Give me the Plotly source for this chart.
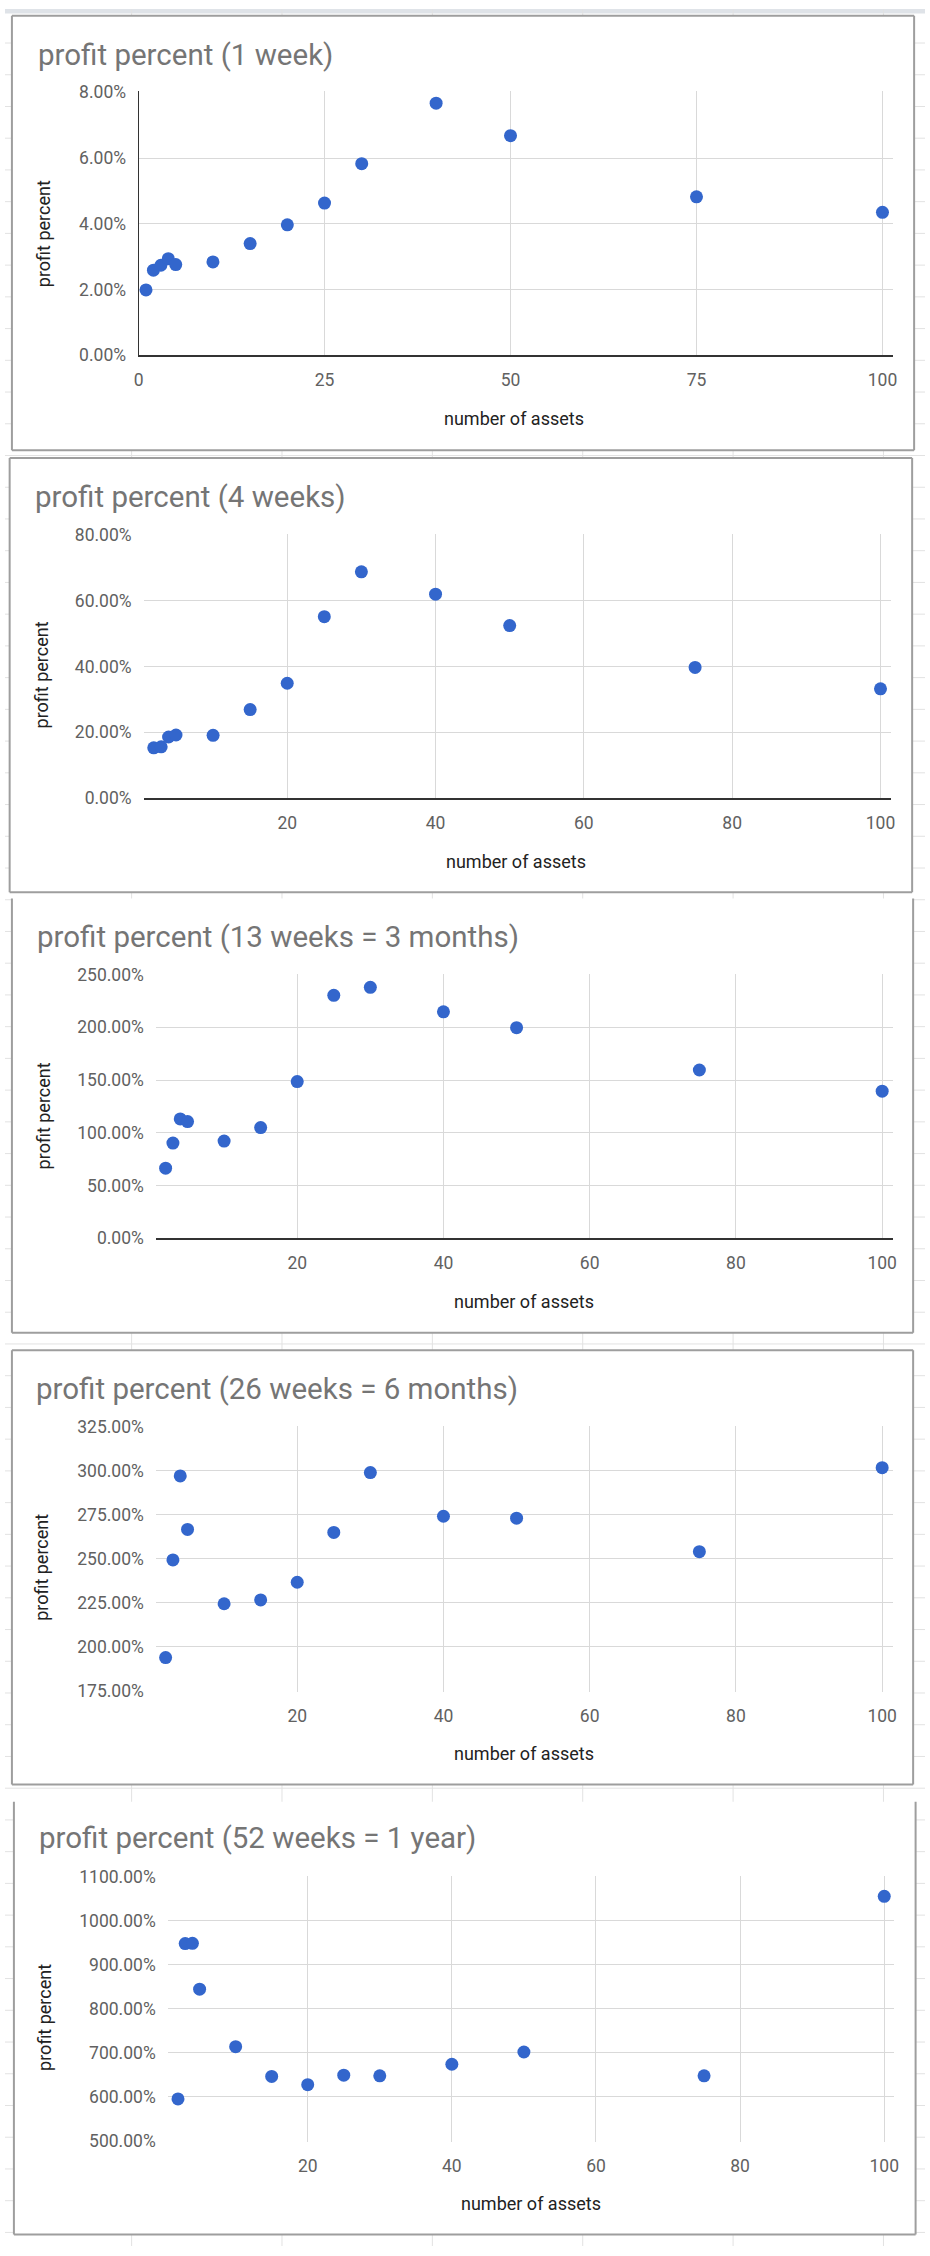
import plotly.graph_objects as go

W, H = 930, 2256

# ---------------- data ----------------
assets_1w = [1, 2, 3, 4, 5, 10, 15, 20, 25, 30, 40, 50, 75, 100]
assets = [2, 3, 4, 5, 10, 15, 20, 25, 30, 40, 50, 75, 100]

profit_1w = [1.99, 2.59, 2.74, 2.94, 2.76, 2.84, 3.40, 3.97, 4.63, 5.83, 7.67, 6.68, 4.82, 4.35]
profit_4w = [15.3, 15.6, 18.6, 19.2, 19.1, 26.9, 34.9, 55.1, 68.7, 61.9, 52.4, 39.7, 33.2]
profit_13w = [66.4, 90.2, 113.1, 110.6, 92.1, 104.9, 148.5, 230.3, 237.8, 214.6, 199.6, 159.5, 139.4]
profit_26w = [193.8, 249.3, 297.0, 266.6, 224.4, 226.6, 236.6, 264.9, 298.9, 274.1, 273.0, 254.0, 301.7]
profit_52w = [595.4, 948.3, 949.0, 844.7, 714.0, 646.4, 627.7, 649.4, 647.9, 674.2, 702.0, 647.9, 1055.7]

titles = [
    "profit percent (1 week)",
    "profit percent (4 weeks)",
    "profit percent (13 weeks = 3 months)",
    "profit percent (26 weeks = 6 months)",
    "profit percent (52 weeks = 1 year)",
]
x_title = "number of assets"
y_title = "profit percent"

# ---------------- layout geometry (pixels) ----------------
charts = [
    dict(x=assets_1w, y=profit_1w, box=(7, 6.7, 919, 445), top_border=True,
         xcal=(0, 135, 100, 887), xedge=(135, 897.7), ycal=(0, 349.3, 8, 84), yedge=(349.3, 83),
         xdtick=25, ydtick=2, ytick0=0, xline=True, yline=True,
         tpos=(31, 46), xtpos=(515, 413), ytpos=(38.5, 227)),
    dict(x=assets, y=profit_4w, box=(4.7, 452.7, 917, 890.7), top_border=True,
         xcal=(20, 285.3, 100, 885), xedge=(140.6, 895.6), ycal=(0, 796, 80, 530), yedge=(796, 529),
         xdtick=20, ydtick=20, ytick0=0, xline=True, yline=False,
         tpos=(28.5, 491.7), xtpos=(517, 859.3), ytpos=(36.8, 671.7)),
    dict(x=assets, y=profit_13w, box=(7, 897, 918, 1335), top_border=False,
         xcal=(20, 295.4, 100, 886.7), xedge=(153, 897.4), ycal=(0, 1239.7, 250, 973.7), yedge=(1239.7, 972.7),
         xdtick=20, ydtick=50, ytick0=0, xline=True, yline=False,
         tpos=(30.8, 935.8), xtpos=(524.3, 1303.3), ytpos=(38.5, 1116.7)),
    dict(x=assets, y=profit_26w, box=(7, 1352.7, 918, 1790.7), top_border=True,
         xcal=(20, 295.4, 100, 886.7), xedge=(153, 897.4), ycal=(175, 1696, 325, 1429.7), yedge=(1697, 1428.7),
         xdtick=20, ydtick=25, ytick0=0, xline=False, yline=False,
         tpos=(29.7, 1391.7), xtpos=(524.3, 1759.3), ytpos=(36.8, 1571.7)),
    dict(x=assets, y=profit_52w, box=(9, 1808, 920.5, 2244.3), top_border=False,
         xcal=(20, 306, 100, 888.8), xedge=(165, 899), ycal=(500, 2150, 1100, 1883.7), yedge=(2151, 1882.7),
         xdtick=20, ydtick=100, ytick0=0, xline=False, yline=False,
         tpos=(32.6, 1845), xtpos=(531.4, 2213.3), ytpos=(39.7, 2025.7)),
]

BLUE = "#3366cc"
GRID = "#d9d9d9"
SHEET = "#e2e2e2"
BORDER = "#9e9e9e"
FONT = "Roboto"


def fx(p):
    return p / W


def fy(p):
    return 1 - p / H


fig = go.Figure()
shapes = []
annotations = []

# spreadsheet background grid
shapes.append(dict(type="rect", xref="paper", yref="paper", x0=0, x1=1, y0=fy(4.5), y1=1,
                   fillcolor="#dfe3e8", line=dict(width=0), layer="below"))
yy = 34.3
while yy < H:
    shapes.append(dict(type="line", xref="paper", yref="paper", x0=0, x1=1, y0=fy(yy), y1=fy(yy),
                       line=dict(color=SHEET, width=1), layer="below"))
    yy += 32
for cx in [128, 280, 432, 584, 736, 888]:
    shapes.append(dict(type="line", xref="paper", yref="paper", x0=fx(cx), x1=fx(cx), y0=0, y1=1,
                       line=dict(color=SHEET, width=1), layer="below"))

layout_axes = {}
for i, c in enumerate(charts):
    n = "" if i == 0 else str(i + 1)
    # white chart card
    l, t, r, b = c["box"]
    shapes.append(dict(type="rect", xref="paper", yref="paper", x0=fx(l), x1=fx(r), y0=fy(b), y1=fy(t),
                       fillcolor="white", line=dict(width=0), layer="below"))
    segs = [((l, t), (l, b)), ((r, t), (r, b)), ((l, b), (r, b))]
    if c["top_border"]:
        segs.append(((l, t), (r, t)))
    for (a0, b0), (a1, b1) in segs:
        shapes.append(dict(type="line", xref="paper", yref="paper", x0=fx(a0), x1=fx(a1), y0=fy(b0), y1=fy(b1),
                           line=dict(color=BORDER, width=2), layer="below"))

    v0, p0, v1, p1 = c["xcal"]
    sx = (v1 - v0) / (p1 - p0)
    xr = [v0 + (c["xedge"][0] - p0) * sx, v0 + (c["xedge"][1] - p0) * sx]
    w0, q0, w1, q1 = c["ycal"]
    sy = (w1 - w0) / (q1 - q0)
    yr = [w0 + (c["yedge"][0] - q0) * sy, w0 + (c["yedge"][1] - q0) * sy]

    layout_axes["xaxis" + n] = dict(
        domain=[fx(c["xedge"][0]), fx(c["xedge"][1])], range=xr, anchor="y" + n,
        tickmode="linear", tick0=0, dtick=c["xdtick"], showgrid=True, gridcolor=GRID, gridwidth=1,
        zeroline=False, showline=c["xline"], linecolor="#333333", linewidth=1.5,
        ticks="outside", ticklen=8, tickcolor="rgba(0,0,0,0)",
        tickfont=dict(family=FONT, size=17.5, color="#616161"), fixedrange=True)
    layout_axes["yaxis" + n] = dict(
        domain=[fy(c["yedge"][0]), fy(c["yedge"][1])], range=yr, anchor="x" + n,
        tickmode="linear", tick0=c["ytick0"], dtick=c["ydtick"], tickformat=".2f", ticksuffix="%",
        showgrid=True, gridcolor=GRID, gridwidth=1,
        zeroline=False, showline=c["yline"], linecolor="#333333", linewidth=1,
        ticks="outside", ticklen=8, tickcolor="rgba(0,0,0,0)",
        tickfont=dict(family=FONT, size=17.5, color="#616161"), fixedrange=True)

    fig.add_trace(go.Scatter(x=c["x"], y=c["y"], mode="markers", xaxis="x" + n, yaxis="y" + n,
                             marker=dict(color=BLUE, size=13, line=dict(width=0)),
                             showlegend=False, name=titles[i]))

    annotations.append(dict(text=titles[i], xref="paper", yref="paper", x=fx(c["tpos"][0]), y=fy(c["tpos"][1]),
                            xanchor="left", yanchor="middle", showarrow=False,
                            font=dict(family=FONT, size=29.5, color="#757575")))
    annotations.append(dict(text=x_title, xref="paper", yref="paper", x=fx(c["xtpos"][0]), y=fy(c["xtpos"][1]),
                            xanchor="center", yanchor="middle", showarrow=False,
                            font=dict(family=FONT, size=18, color="#222222")))
    annotations.append(dict(text=y_title, xref="paper", yref="paper", x=fx(c["ytpos"][0]), y=fy(c["ytpos"][1]),
                            xanchor="center", yanchor="middle", showarrow=False, textangle=-90,
                            font=dict(family=FONT, size=18, color="#222222")))

fig.update_layout(
    width=W, height=H, margin=dict(l=0, r=0, t=0, b=0),
    paper_bgcolor="white", plot_bgcolor="white",
    shapes=shapes, annotations=annotations, showlegend=False,
    **layout_axes,
)

fig.write_html(
    "out.html",
    config={"displayModeBar": False},
    post_script="document.body.style.margin='0';document.body.style.overflow='hidden';",
)
